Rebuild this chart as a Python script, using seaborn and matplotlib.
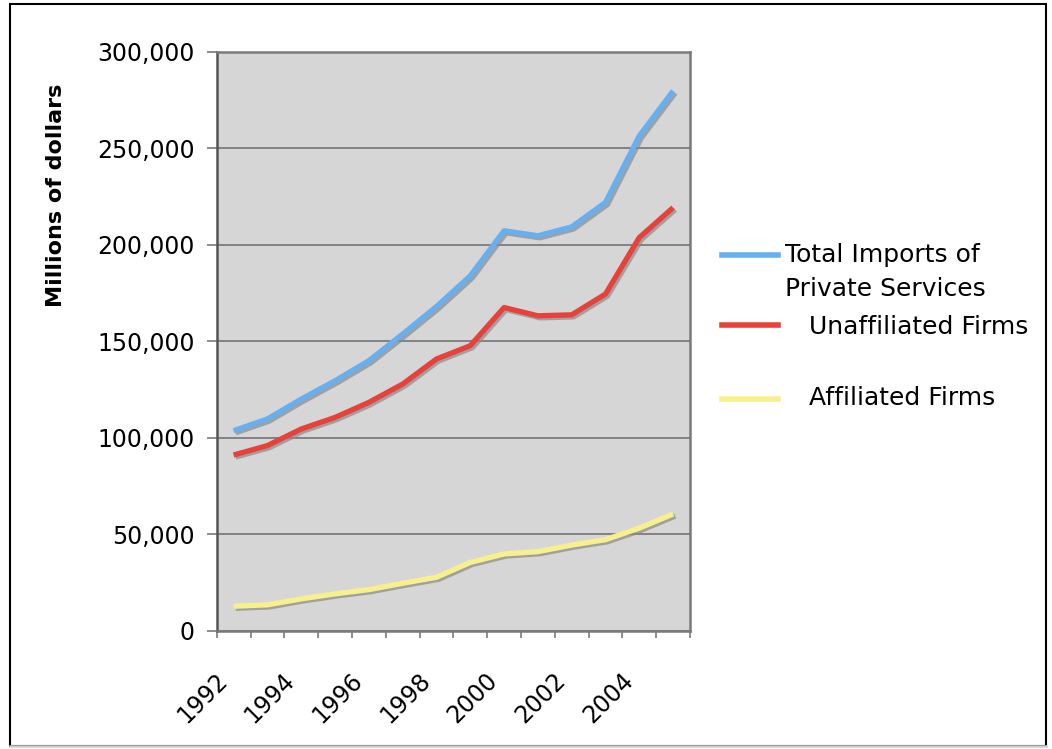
import numpy as np
import pandas as pd
import seaborn as sns
import matplotlib.pyplot as plt
import matplotlib.patheffects as pe
from matplotlib.lines import Line2D
from matplotlib.patches import Rectangle
from matplotlib.ticker import StrMethodFormatter, MultipleLocator
from matplotlib.transforms import ScaledTranslation
from matplotlib.legend_handler import HandlerLine2D

# data (millions of dollars)
years = list(range(1992, 2006))
total_imports = [103.6, 109.7, 120.0, 129.5, 139.9, 153.7, 168.0, 183.9, 207.3, 204.7, 209.3, 222.0, 256.5, 279.8]
unaffiliated = [91.0, 95.9, 104.5, 110.5, 118.3, 127.8, 140.8, 147.7, 167.5, 163.2, 163.7, 174.5, 203.8, 219.3]
affiliated = [12.6, 13.3, 16.4, 19.0, 21.2, 24.5, 27.6, 35.3, 39.7, 40.9, 44.3, 47.1, 53.1, 60.4]
series_names = ["Total Imports of\nPrivate Services", "   Unaffiliated Firms", "\n   Affiliated Firms"]
colors = ["#66aff0", "#e8413a", "#f7f08c"]

df = pd.DataFrame({
    "year": years * 3,
    "value": [v * 1000 for v in total_imports + unaffiliated + affiliated],
    "series": [series_names[0]] * 14 + [series_names[1]] * 14 + [series_names[2]] * 14,
})

fig = plt.figure(figsize=(10.52, 7.49), dpi=100)
ax = fig.add_axes([0.206, 0.1582, 0.4499, 0.7724])

sns.lineplot(data=df, x="year", y="value", hue="series", palette=colors,
             hue_order=series_names, linewidth=3.8, legend=False, ax=ax)

shadow = [pe.SimpleLineShadow(offset=(1.5, -1.5), shadow_color="#8a8a8a", alpha=0.7), pe.Normal()]
for line in ax.get_lines():
    line.set_path_effects(shadow)
    line.set_solid_capstyle("butt")

ax.set_facecolor("#d6d6d6")
ax.set_xlim(1991.5, 2005.5)
ax.set_ylim(0, 300000)
ax.yaxis.set_major_locator(MultipleLocator(50000))
ax.yaxis.set_major_formatter(StrMethodFormatter("{x:,.0f}"))
ax.grid(axis="y", color="#7c7c7c", linewidth=1.3)
ax.set_axisbelow(True)
for side in ["left", "bottom", "top", "right"]:
    ax.spines[side].set_color("#7a7a7a")
    ax.spines[side].set_linewidth(1.8)
ax.spines["left"].set_color("#555555")

# x axis: tick marks at category edges, labels every other year
ax.set_xticks(np.arange(1991.5, 2006, 1), minor=True)
ax.set_xticks(years[::2])
ax.set_xticklabels([str(y) for y in years[::2]])
ax.tick_params(axis="x", which="minor", length=5, width=1.2, color="#7a7a7a", direction="out")
ax.tick_params(axis="x", which="major", length=0, pad=33, labelsize=17)
for lab in ax.get_xticklabels():
    lab.set_rotation(45)
    lab.set_ha("right")
    lab.set_va("center")
    lab.set_rotation_mode("anchor")
    lab.set_transform(lab.get_transform() + ScaledTranslation(-10 / 100, 0, fig.dpi_scale_trans))
ax.tick_params(axis="y", length=7, width=1.2, color="#7a7a7a", pad=9, labelsize=17)

ax.set_xlabel("")
ax.set_ylabel("Millions of dollars", fontsize=16, fontweight="bold")
ax.yaxis.set_label_coords(-0.318, 0.7526)


class ShiftedLine(HandlerLine2D):
    def __init__(self, shift, **kw):
        super().__init__(**kw)
        self.shift = shift

    def create_artists(self, legend, orig_handle, xdescent, ydescent, width, height, fontsize, trans):
        artists = super().create_artists(legend, orig_handle, xdescent, ydescent, width, height, fontsize, trans)
        for a in artists:
            a.set_ydata([y + self.shift for y in a.get_ydata()])
        return artists


handles = [Line2D([], [], color=c, linewidth=4) for c in colors]
leg = fig.legend(handles, series_names, loc="upper left", bbox_to_anchor=(722 / 1052, 1 - 243 / 749),
                 frameon=False, fontsize=18, handlelength=2.25, handletextpad=0.28,
                 borderpad=0, borderaxespad=0, labelspacing=0.55,
                 handler_map={handles[0]: ShiftedLine(13.0), handles[2]: ShiftedLine(-11.9)})
for t in leg.get_texts():
    t.set_linespacing(1.52)

# frame around the whole picture, faint at the bottom
fig.patches.append(Rectangle((0.0095, 0.004), 0.985, 0.9907, transform=fig.transFigure,
                             fill=False, edgecolor="black", linewidth=1.5))
fig.lines.append(Line2D([0.0095, 0.9945], [0.004, 0.004], transform=fig.transFigure,
                        color="#cfcfcf", linewidth=1.8))

fig.savefig("out.png", dpi=100)
